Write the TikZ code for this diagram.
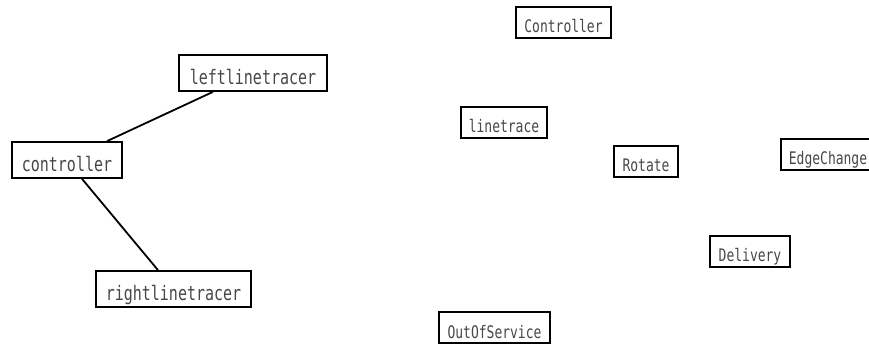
\documentclass[tikz,border=0pt]{standalone}
\usepackage{fontspec}
\usepackage{graphicx}
\newfontfamily\boxfont{DejaVu Sans Mono}
\newcommand{\tallt}[1]{\scalebox{1}[1.33]{#1}}
\begin{document}
\begin{tikzpicture}[x=1pt,y=-1pt,
  bigbox/.style={draw=black, line width=1.7pt, inner sep=0pt, text=black!72,
    font=\boxfont\fontsize{15}{15}\selectfont, minimum height=36pt,
    text height=29pt, text depth=5pt, align=center},
  smallbox/.style={draw=black, line width=1.7pt, inner sep=0pt, text=black!72,
    font=\boxfont\fontsize{13}{13}\selectfont, minimum height=31pt,
    text height=25pt, text depth=4pt, align=center},
  link/.style={line width=1.8pt, black}]
\useasboundingbox (0,0) rectangle (869,344);
\clip (0,0) rectangle (869,344);
\node[bigbox, minimum width=148pt] (ll) at (253,73) {\tallt{leftlinetracer}};
\node[bigbox, minimum width=110pt] (ctrl) at (67,160) {\tallt{controller}};
\node[bigbox, minimum width=155pt] (rl) at (173.5,289) {\tallt{rightlinetracer}};
\node[smallbox, minimum width=95pt] (Ctrl) at (563.5,22.5) {\tallt{Controller}};
\node[smallbox, minimum width=86pt] (lt) at (504,122.5) {\tallt{linetrace}};
\node[smallbox, minimum width=64pt] (rot) at (646,161.5) {\tallt{Rotate}};
\node[smallbox, minimum width=94pt] (edge) at (828,154.5) {\tallt{EdgeChange}};
\node[smallbox, minimum width=80pt] (del) at (750,251.5) {\tallt{Delivery}};
\node[smallbox, minimum width=111pt] (oos) at (494.5,327.5) {\tallt{OutOfService}};
\draw[link] ([xshift=-40pt]ll.south) -- ([xshift=40pt]ctrl.north);
\draw[link] ([xshift=15pt]ctrl.south) -- ([xshift=-15.5pt]rl.north);
\end{tikzpicture}
\end{document}
